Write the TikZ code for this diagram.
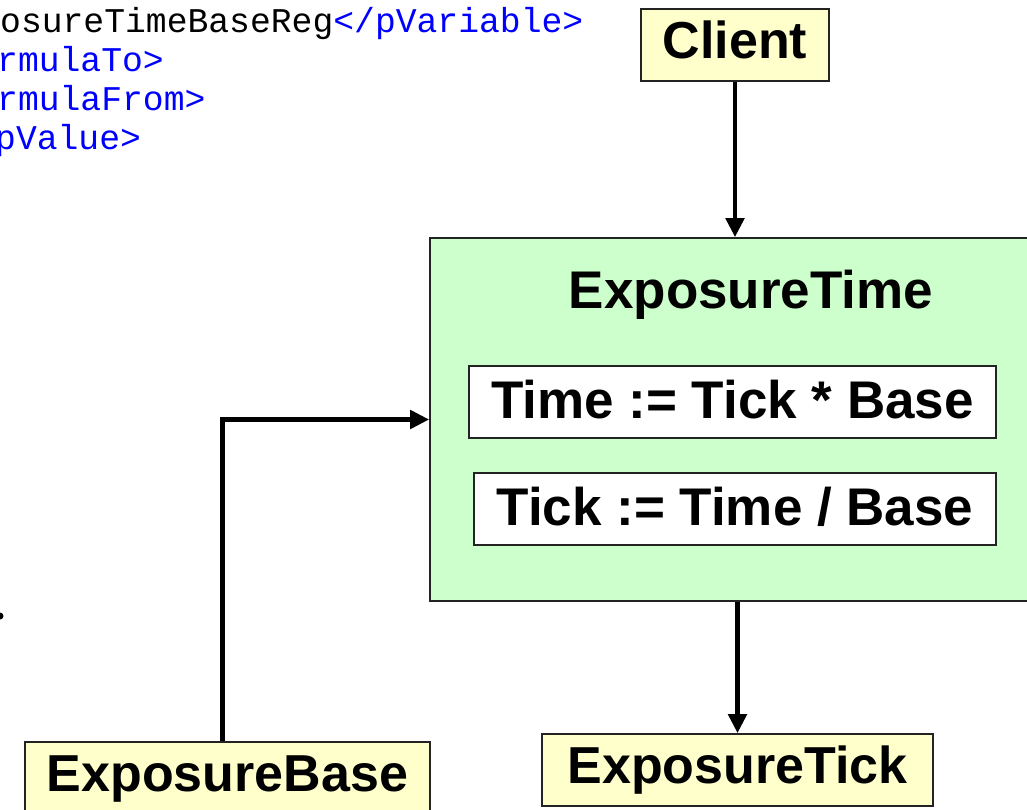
\documentclass[tikz,border=0pt]{standalone}
\usepackage{fontspec}
\setmainfont{Liberation Sans}
\newfontfamily\codefont{Liberation Mono}
\usetikzlibrary{arrows.meta, positioning}
\definecolor{boxyellow}{RGB}{255,255,204}
\definecolor{boxgreen}{RGB}{204,255,204}
\definecolor{codeblue}{RGB}{0,0,255}
\definecolor{edgegray}{RGB}{35,35,35}

\tikzset{
    part/.style={draw=edgegray, line width=1.6pt, fill=boxyellow, inner sep=0pt,
        font=\fontsize{52}{60}\selectfont\bfseries, text height=37pt, text depth=11pt,
        minimum height=72pt},
    formula/.style={part, fill=white, text height=40pt, text depth=8pt,
        font=\fontsize{53}{60}\selectfont\bfseries},
    flow/.style={line width=4.8pt, -{Triangle[length=19pt,width=18pt]}},
    codeline/.style={font=\codefont\fontsize{34.7}{40}\selectfont, anchor=base west, inner sep=0pt}
}

\begin{document}
\begin{tikzpicture}[x=1pt, y=-1pt]
    \useasboundingbox (0,0) rectangle (1027,809);
    \clip (0,0) rectangle (1027,809);

    % XML snippet behind
    \node[codeline] (xmlvar) at (0,32) {osureTimeBaseReg\textcolor{codeblue}{</pVariable>}};
    \node[codeline, text=codeblue] (xmlto) at (-3,71) {rmulaTo>};
    \node[codeline, text=codeblue] (xmlfrom) at (-3,110) {rmulaFrom>};
    \node[codeline, text=codeblue] (xmlval) at (-5,149) {pValue>};
    \fill (0,616) circle (3.5pt);

    % Register with its two formulas
    \node[part, fill=boxgreen, minimum width=642pt, minimum height=363pt] (exptime) at (751,419.5) {};
    \node[formula, draw=none, fill=none] (exptitle) at (751,292) {ExposureTime};
    \node[formula, minimum width=527pt] (tofml) at (732.5,402) {Time := Tick * Base};
    \node[formula, minimum width=522pt] (fromfml) at (735,509) {Tick := Time / Base};

    % Client and the two plain registers
    \node[part, minimum width=188pt] (client) at (735,45) {Client};
    \node[part, minimum width=405pt] (expbase) at (227.5,778) {ExposureBase};
    \node[part, minimum width=391pt] (exptick) at (737.5,770) {ExposureTick};

    % Connectors
    \draw[flow] (client.south) -- (client.south |- exptime.north);
    \draw[flow] ([xshift=-5pt]expbase.north) |- (exptime.west);
    \draw[flow] (exptime.south -| exptick.north) -- (exptick.north);
\end{tikzpicture}
\end{document}
